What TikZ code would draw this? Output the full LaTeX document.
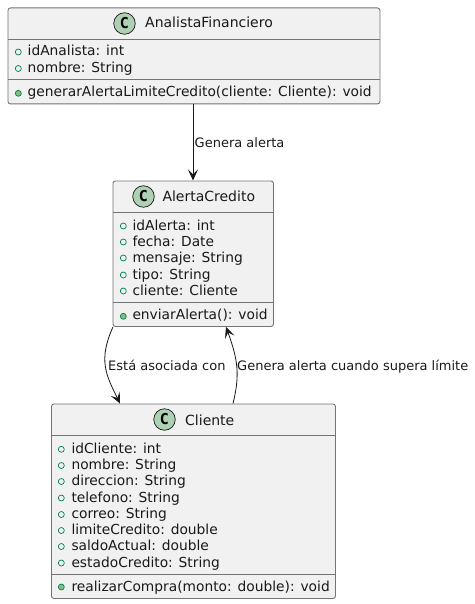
\documentclass[tikz,border=0pt]{standalone}
\usepackage{fontspec}
\setmainfont{DejaVu Sans}
\newfontfamily\spotfont{DejaVu Sans Mono}
\usepackage{tikz}
\usetikzlibrary{arrows.meta,positioning,calc}
\definecolor{cbox}{HTML}{F1F1F1}
\definecolor{cline}{HTML}{181818}
\definecolor{cspot}{HTML}{ADD1B2}
\definecolor{cvis}{HTML}{038048}
\definecolor{cvisF}{HTML}{84BE84}
\tikzset{
  classbox/.style={draw=cline!60, fill=cbox, rounded corners=2.5pt, line width=0.9pt, inner sep=0pt},
  spot/.style={circle, draw=cline, fill=cspot, line width=0.7pt, minimum size=21.5pt, inner sep=0pt, font=\spotfont\fontsize{15}{15}\selectfont\bfseries},
  ctitle/.style={anchor=base west, inner sep=0pt, font=\fontsize{14}{16}\selectfont, text=black!90},
  member/.style={anchor=base west, inner sep=0pt, font=\fontsize{13.8}{16}\selectfont, text=black!90},
  attrdot/.style={circle, draw=cvis, line width=0.7pt, minimum size=6pt, inner sep=0pt},
  methdot/.style={attrdot, fill=cvisF},
  sepline/.style={draw=cline!60, line width=0.9pt},
  flow/.style={-{Stealth[length=11pt, width=10pt, inset=5pt]}, draw=cline, line width=0.8pt},
  lbl/.style={anchor=base west, inner sep=0pt, font=\fontsize{13}{15}\selectfont, text=black!90},
}
\begin{document}
\begin{tikzpicture}[x=1pt, y=-1pt]
  \useasboundingbox (0,0) rectangle (474,604);
  % classes
  \node[classbox, anchor=north west, minimum width=372pt, minimum height=96pt] (analista) at (7.5,7.5) {};
  \node[classbox, anchor=north west, minimum width=160.5pt, minimum height=145.5pt] (alerta) at (112.5,180.5) {};
  \node[classbox, anchor=north west, minimum width=284pt, minimum height=194.5pt] (cliente) at (51,403.5) {};
  % class titles
  \node[spot] (spotA) at (124.5,23.5) {C};
  \node[ctitle] (titleA) at (145,28) {AnalistaFinanciero};
  \node[spot] (spotB) at (143.5,196.5) {C};
  \node[ctitle] (titleB) at (162.3,201) {AlertaCredito};
  \node[spot] (spotC) at (164.5,419.5) {C};
  \node[ctitle] (titleC) at (185,425) {Cliente};
  % separators
  \draw[sepline] (analista.west |- 0,39) -- (analista.east |- 0,39);
  \draw[sepline] (analista.west |- 0,79) -- (analista.east |- 0,79);
  \draw[sepline] (alerta.west |- 0,212) -- (alerta.east |- 0,212);
  \draw[sepline] (alerta.west |- 0,302) -- (alerta.east |- 0,302);
  \draw[sepline] (cliente.west |- 0,435.5) -- (cliente.east |- 0,435.5);
  \draw[sepline] (cliente.west |- 0,574) -- (cliente.east |- 0,574);
  % members
  \foreach \y/\t in {56/idAnalista: int, 72.5/nombre: String} {
    \node[attrdot] at (18.3,\y-4) {};
    \node[member] at (27.5,\y) {\t};
  }
  \node[methdot] at (18.3,93.3) {};
  \node[member] at (27.5,97) {generarAlertaLimiteCredito(cliente: Cliente): void};
  \foreach \y/\t in {230/idAlerta: int, 246/fecha: Date, 262/mensaje: String, 279/tipo: String, 295/cliente: Cliente} {
    \node[attrdot] at (123.3,\y-4) {};
    \node[member] at (132.3,\y) {\t};
  }
  \node[methdot] at (123.3,316.3) {};
  \node[member] at (132.3,319.5) {enviarAlerta(): void};
  \foreach \y/\t in {453.3/idCliente: int, 469.5/nombre: String, 485.5/direccion: String, 502/telefono: String, 518.5/correo: String, 534.5/limiteCredito: double, 550.5/saldoActual: double, 567/estadoCredito: String} {
    \node[attrdot] at (61.3,\y-4) {};
    \node[member] at (71.3,\y) {\t};
  }
  \node[methdot] at (61.3,587) {};
  \node[member] at (71.3,591.7) {realizarCompra(monto: double): void};
  % relations
  \draw[flow] ($(analista.south west)+(185.5,0)$) -- ($(alerta.north west)+(80.5,0)$);
  \draw[flow] ($(alerta.south west)+(0.5,0)$) .. controls (98,360) and (106,375) .. ($(cliente.north west)+(69,0)$);
  \draw[flow] ($(cliente.north west)+(182,0)$) .. controls (240,375) and (238,360) .. ($(alerta.south west)+(113.5,0)$);
  \node[lbl] (genera) at (194.5,147) {Genera alerta};
  \node[lbl] (asociada) at (108,370) {Está asociada con};
  \node[lbl] (supera) at (237,370) {Genera alerta cuando supera límite};
\end{tikzpicture}
\end{document}
